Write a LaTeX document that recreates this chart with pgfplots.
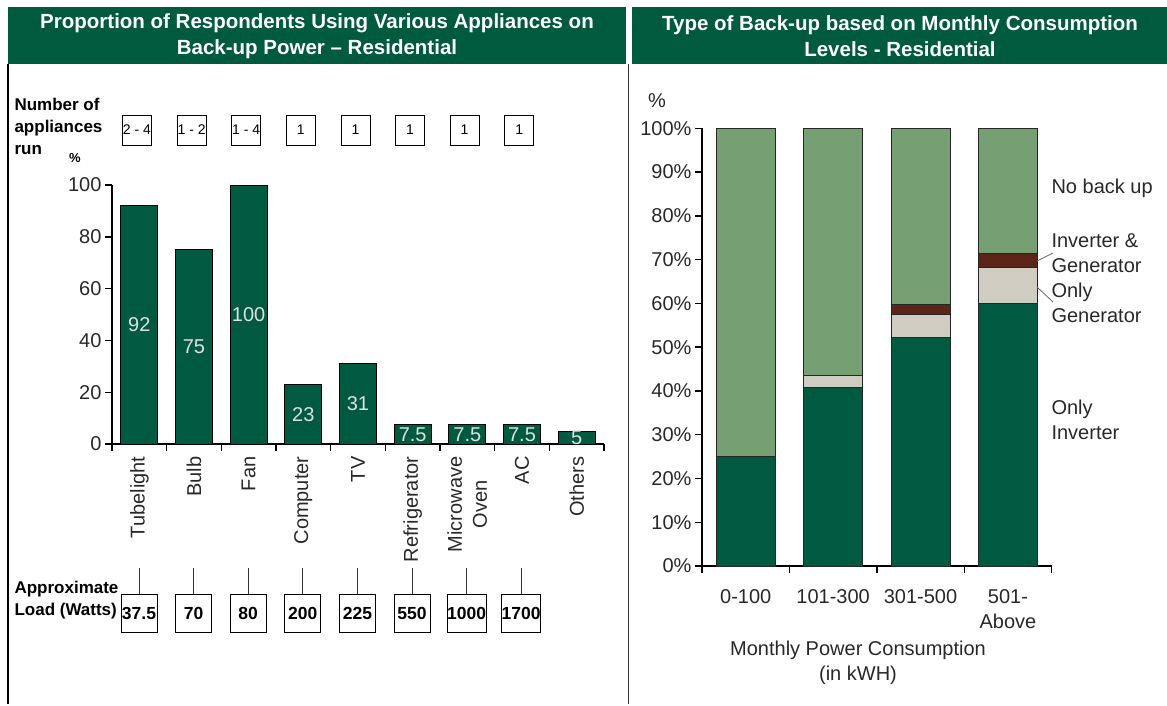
\documentclass[border=0pt]{standalone}
\usepackage{fontspec}
\setmainfont{Liberation Sans}
\usepackage{pgfplots}
\pgfplotsset{compat=1.18}
\usepackage{pgfplotstable}

\definecolor{hdr}{RGB}{0,90,62}
\definecolor{dkgreen}{RGB}{0,90,64}
\definecolor{ltgreen}{RGB}{118,160,116}
\definecolor{beige}{RGB}{207,205,194}
\definecolor{brn}{RGB}{92,36,24}
\definecolor{txt}{RGB}{40,40,40}

\newcommand{\fs}[2]{\fontsize{#1}{#2}\selectfont}

% appliances on back-up power, % of respondents
\pgfplotstableread{
x y lab
0 92 92
1 75 75
2 100 100
3 23 23
4 31 31
5 7.5 7.5
6 7.5 7.5
7 7.5 7.5
8 5 5
}\appliances

% type of back-up by monthly consumption
\pgfplotstableread{
x inv gen both none
0 25 0 0 75
1 40.7 2.9 0 56.4
2 52.2 5.3 2.3 40.2
3 60.0 8.2 3.3 28.5
}\backup

\begin{document}
\begin{tikzpicture}
\path (0pt,0pt) rectangle (1167pt,-704pt);
% headers
\fill[hdr] (8pt,-7pt) rectangle (626pt,-64pt);
\fill[hdr] (632pt,-7pt) rectangle (1167pt,-64pt);
\node[text=white, font=\bfseries\fs{20.5}{26}, align=center] at (317pt,-36.5pt)
  {Proportion of Respondents Using Various Appliances on\\Back-up Power – Residential};
\node[text=white, font=\bfseries\fs{20.5}{26}, align=center] at (900pt,-36.5pt)
  {Type of Back-up based on Monthly Consumption\\Levels - Residential};
% frame lines
\draw[black, line width=2pt] (8pt,-64pt) -- (8pt,-704pt);
\draw[black!80, line width=1.2pt] (628.5pt,-64pt) -- (628.5pt,-704pt);

% ---------- left chart ----------
\begin{axis}[
  at={(112pt,-444pt)}, anchor=south west,
  width=492pt, height=259pt, scale only axis,
  xmin=-0.5, xmax=8.5, ymin=0, ymax=100,
  axis x line*=bottom, axis y line*=left,
  axis line style={black, line width=1.4pt},
  ytick={0,20,...,100},
  xtick={-0.5,0.5,...,8.5}, xticklabels={},
  extra x ticks={0,...,8},
  extra x tick labels={Tubelight,Bulb,Fan,Computer,TV,Refrigerator,{Microwave\\Oven},AC,Others},
  extra x tick style={major tick length=0pt,
    xticklabel style={yshift=-9pt, rotate=90, anchor=east, align=center, font=\fs{20}{25}, text=txt}},
  tick align=outside, major tick length=7pt,
  tick style={black, line width=1.4pt},
  yticklabel style={font=\fs{20}{24}, text=txt},
  /pgf/number format/assume math mode=true,
  clip=false,
]
\addplot[ybar, bar width=37pt, bar shift=0pt, fill=dkgreen, draw=black, line width=0.8pt]
  table[x=x, y=y] {\appliances};
\addplot[draw=none, mark=none, nodes near coords, point meta=explicit symbolic,
  every node near coord/.style={anchor=center, text=white!88!black, font=\fs{20}{24}}]
  table[x=x, y expr=\thisrow{y}/2, meta=lab] {\appliances};
\end{axis}
\node[font=\bfseries\fs{13}{15}] at (75pt,-158pt) {\%};

% number of appliances run
\node[font=\bfseries\fs{17}{22}, align=left, anchor=north west] at (11pt,-95pt)
  {Number of\\appliances\\run};
\foreach \t [count=\i from 0] in {2 - 4,1 - 2,1 - 4,1,1,1,1,1}
  \node[draw=black, line width=0.8pt, minimum width=29pt, minimum height=30pt, inner sep=0pt,
    font=\fs{14}{16}] at ({137pt+\i*54.6pt},-130pt) {\t};

% approximate load
\node[font=\bfseries\fs{17}{22}, align=left, anchor=north west] at (11pt,-578pt)
  {Approximate\\Load (Watts)};
\foreach \t [count=\i from 0] in {37.5,70,80,200,225,550,1000,1700} {
  \draw[black!80, line width=0.8pt] ({139pt+\i*54.6pt},-568pt) -- ({139pt+\i*54.6pt},-594pt);
  \node[draw=black, line width=0.8pt, minimum width=36pt, minimum height=38pt, inner sep=0pt,
    font=\bfseries\fs{17.5}{18}] at ({139pt+\i*54.6pt},-613pt) {\t};
}

% ---------- right chart ----------
\begin{axis}[
  at={(702pt,-566pt)}, anchor=south west,
  width=349.6pt, height=437.7pt, scale only axis,
  xmin=-0.5, xmax=3.5, ymin=0, ymax=100,
  ybar stacked, bar width=59pt,
  axis x line*=bottom, axis y line*=left,
  axis line style={black, line width=1.4pt},
  ytick={0,10,...,100},
  yticklabel={\pgfmathprintnumber{\tick}\%},
  xtick={-0.5,0.5,...,3.5}, xticklabels={},
  extra x ticks={0,1,2,3},
  extra x tick labels={0-100,101-300,301-500,{501-\\Above}},
  extra x tick style={major tick length=0pt,
    xticklabel style={yshift=-20pt, anchor=north, align=center, font=\fs{20}{25}, text=txt}},
  tick align=outside, major tick length=7pt,
  tick style={black, line width=1.4pt},
  yticklabel style={font=\fs{20}{24}, text=txt},
  /pgf/number format/assume math mode=true,
  clip=false,
]
\addplot[fill=dkgreen, draw=black!85, line width=0.8pt] table[x=x, y=inv] {\backup};
\addplot[fill=beige, draw=black!85, line width=0.8pt] table[x=x, y=gen] {\backup};
\addplot[fill=brn, draw=black!85, line width=0.8pt] table[x=x, y=both] {\backup};
\addplot[fill=ltgreen, draw=black!85, line width=0.8pt] table[x=x, y=none] {\backup};
\end{axis}
\node[font=\fs{20}{24}, text=txt] at (657pt,-101pt) {\%};
\node[font=\fs{20}{25}, text=txt, align=center] at (858pt,-663pt)
  {Monthly Power Consumption\\(in kWH)};

% series labels
\node[font=\fs{20}{24.5}, text=txt, align=left, anchor=west] at (1048pt,-188pt) {No back up};
\node[font=\fs{20}{24.5}, text=txt, align=left, anchor=west] at (1048pt,-253pt) {Inverter \&\\Generator};
\node[font=\fs{20}{24.5}, text=txt, align=left, anchor=west] at (1048pt,-303pt) {Only\\Generator};
\node[font=\fs{20}{24.5}, text=txt, align=left, anchor=west] at (1048pt,-420pt) {Only\\Inverter};
\draw[black!60, line width=0.8pt] (1037pt,-261pt) -- (1053pt,-253pt);
\draw[black!60, line width=0.8pt] (1037pt,-287pt) -- (1053pt,-302pt);
\end{tikzpicture}
\end{document}
